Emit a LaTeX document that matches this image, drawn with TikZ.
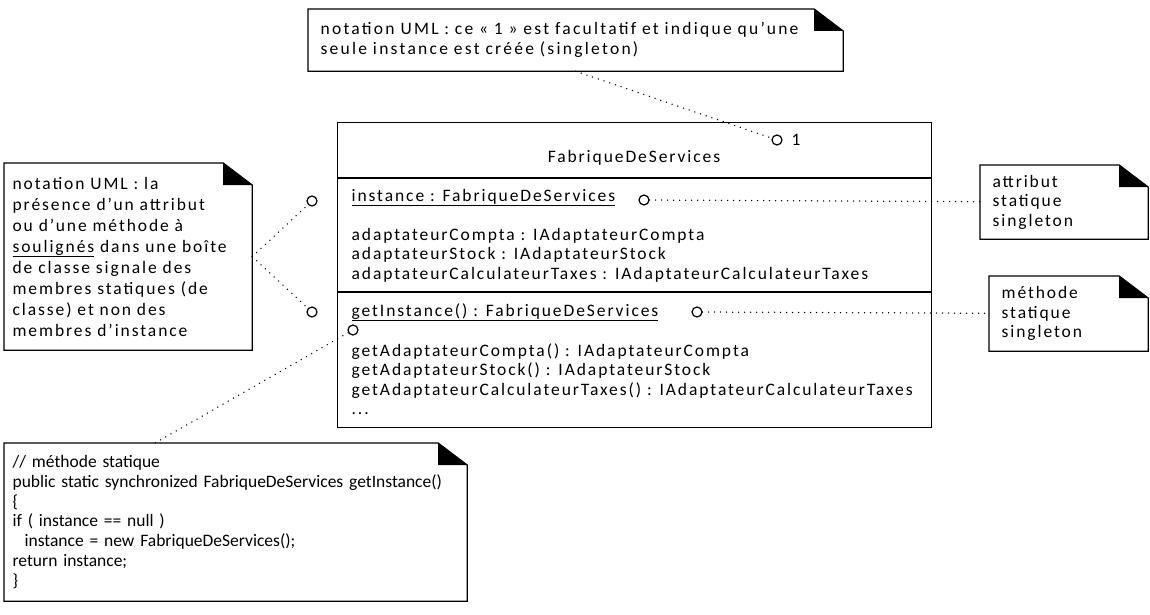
\documentclass[tikz,border=0pt]{standalone}
\usepackage{fontspec}
\setmainfont{Carlito}[LetterSpace=11]
\newfontfamily\codefont{Carlito}
\newfontfamily\hautfont{Carlito}[LetterSpace=13]
\newcommand\taille{\fontsize{17.5}{19.6}\selectfont}
% le coin replie des notes
\newcommand\pli[1]{%
  \draw (#1.south west) -- (#1.north west) -- ([xshift=-29pt]#1.north east)
    -- ([yshift=-22pt]#1.north east) -- (#1.south east) -- cycle;
  \fill ([xshift=-29pt]#1.north east) -- ([yshift=-22pt]#1.north east)
    -- ([xshift=-29pt,yshift=-22pt]#1.north east) -- cycle;}
\tikzset{
  note/.style={anchor=north west, inner xsep=10pt, inner ysep=0pt, align=left, font=\taille},
  ligne/.style={anchor=base west, inner sep=0pt, font=\taille},
  rond/.style={circle, draw, fill=white, inner sep=0pt, minimum size=10pt},
  lien/.style={line width=1.5pt, dash pattern=on 0pt off 6pt, line cap=round}
}
\begin{document}
\begin{tikzpicture}[x=1pt, y=-1pt, line width=1.2pt]
  \useasboundingbox (0,0) rectangle (1150,615);
  % la note du haut
  \node[note, inner xsep=12pt, text width=510pt, minimum height=61pt,
        font=\taille\hautfont] (haut) at (308,9)
    {\mbox{notation UML : ce « 1 » est facultatif et indique qu’une}\\seule instance est créée (singleton)};
  \pli{haut}
  % la note de gauche
  \node[note, inner xsep=8pt, text width=231pt, minimum height=186pt,
        font=\fontsize{17.5}{21}\selectfont] (gauche) at (4,163)
    {notation UML : la\\présence d’un attribut\\ou d’une méthode à\\\mbox{\underline{soulignés} dans une boîte}\\de classe signale des\\membres statiques (de\\classe) et non des\\membres d’instance};
  \pli{gauche}
  % les deux notes de droite
  \node[note, inner xsep=12pt, text width=143pt, minimum height=73pt] (attribut) at (980,165)
    {attribut\\statique\\singleton};
  \pli{attribut}
  \node[note, inner xsep=12pt, text width=134pt, minimum height=74pt] (methode) at (989,276)
    {méthode\\statique\\singleton};
  \pli{methode}
  % la note du code
  \node[note, inner xsep=8pt, text width=446pt, minimum height=157pt,
        font=\fontsize{17.5}{19.7}\selectfont\codefont] (code) at (4,443)
    {// méthode statique\\\mbox{public static synchronized FabriqueDeServices getInstance()}\\\{\\if ( instance == null )\\\hspace*{12pt}instance = new FabriqueDeServices();\\return instance;\\\}};
  \pli{code}
  % la boite de classe
  \node[draw, anchor=north west, minimum width=594pt, minimum height=305pt, inner sep=0pt] (fabrique) at (337,122) {};
  \draw (337,178) -- (931,178);
  \draw (337,292) -- (931,292);
  \node[ligne, anchor=base] (nom) at (634,162) {FabriqueDeServices};
  % les attributs
  \node[ligne] (instance) at (351,201) {\underline{instance : FabriqueDeServices}};
  \foreach \y/\t in {240/adaptateurCompta : IAdaptateurCompta,
                     259.5/adaptateurStock : IAdaptateurStock,
                     279/adaptateurCalculateurTaxes : IAdaptateurCalculateurTaxes} {
    \node[ligne] (attr\y) at (351,\y) {\t};
  }
  % les methodes
  \node[ligne] (getinstance) at (351,316) {\underline{getInstance() : FabriqueDeServices}};
  \foreach \y/\t in {356/getAdaptateurCompta() : IAdaptateurCompta,
                     375.5/getAdaptateurStock() : IAdaptateurStock,
                     395/getAdaptateurCalculateurTaxes() : IAdaptateurCalculateurTaxes} {
    \node[ligne] (meth\y) at (351,\y) {\t};
  }
  \node[ligne] (suite) at (351,414) {...};
  % les petits ronds
  \node[rond] (rUn) at (777,140) {};
  \node[ligne] (un) at (791,145) {1};
  \node[rond] (rInstance) at (644,200) {};
  \node[rond] (rGetInstance) at (697,312) {};
  \node[rond] (rStatique) at (353,330) {};
  \node[rond] (rGaucheA) at (312,201) {};
  \node[rond] (rGaucheB) at (312,312) {};
  % les liens en pointilles
  \draw[lien] (haut.south) -- (rUn);
  \draw[lien] (rInstance) -- (attribut);
  \draw[lien] (rGetInstance) -- (methode);
  \draw[lien] (gauche.east) -- (rGaucheA);
  \draw[lien] (gauche.east) -- (rGaucheB);
  \draw[lien] (rStatique) -- ([xshift=151pt]code.north west);
\end{tikzpicture}
\end{document}
